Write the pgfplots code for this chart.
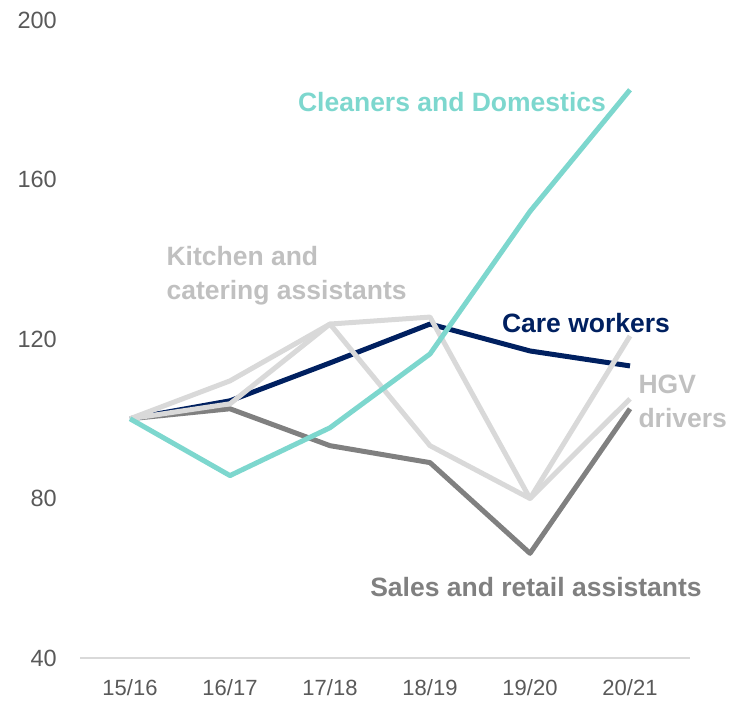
\documentclass[border=0pt]{standalone}
\usepackage{fontspec}
\setmainfont{Liberation Sans}
\usepackage{pgfplots}
\pgfplotsset{compat=1.18}

\definecolor{teal1}{HTML}{7DD7CE}
\definecolor{navy1}{HTML}{002060}
\definecolor{dgray}{HTML}{808080}
\definecolor{lgray}{HTML}{D9D9D9}
\definecolor{lblgray}{HTML}{C0C0C0}
\definecolor{tickgray}{HTML}{595959}

\begin{document}
\begin{tikzpicture}
  \begin{axis}[
    scale only axis,
    width=610pt, height=638pt,
    xmin=-0.5, xmax=5.6,
    ymin=40, ymax=200,
    axis x line*=bottom,
    axis y line*=left,
    x axis line style={draw=lgray, line width=1.5pt, -},
    y axis line style={draw=none},
    xtick={0,...,5},
    xticklabels={15/16,16/17,17/18,18/19,19/20,20/21},
    ytick={40,80,120,160,200},
    major tick length=0pt,
    /pgf/number format/assume math mode=true,
    ticklabel style={text=tickgray, inner sep=0pt},
    yticklabel style={font=\fontsize{23.5}{27}\selectfont, anchor=east, xshift=-23pt},
    xticklabel style={font=\fontsize{22}{26}\selectfont, anchor=north, yshift=-21pt},
    every axis plot/.append style={line width=5pt, line join=round, mark=none},
    clip=false,
  ]
  % Sales and retail assistants
  \addplot[dgray] coordinates {(0,100) (1,102.5) (2,93.25) (3,89) (4,66.25) (5,102.5)};
  % Care workers
  \addplot[navy1] coordinates {(0,100) (1,104.5) (2,114) (3,123.75) (4,117) (5,113.25)};
  % HGV drivers
  \addplot[lgray] coordinates {(0,100) (1,103.75) (2,123.75) (3,93.25) (4,80) (5,105)};
  % Kitchen and catering assistants
  \addplot[lgray] coordinates {(0,100) (1,109.5) (2,123.75) (3,125.5) (4,80) (5,120.75)};
  % Cleaners and Domestics
  \addplot[teal1] coordinates {(0,100) (1,85.75) (2,97.75) (3,116.25) (4,152) (5,182.5)};

  \begin{scope}[every node/.style={font=\fontsize{26.5}{34}\selectfont\bfseries}]
  \node[text=teal1] at (axis cs:3.22,179.5) {Cleaners and Domestics};
  \node[text=lblgray, anchor=west, align=left] at (axis cs:0.33,135.75) {Kitchen and\\catering assistants};
  \node[text=navy1] at (axis cs:4.56,124) {Care workers};
  \node[text=lblgray, anchor=west, align=left] at (axis cs:5.05,104.25) {HGV\\drivers};
  \node[text=dgray] at (axis cs:4.06,57.75) {Sales and retail assistants};
  \end{scope}
  \end{axis}
  \pgfresetboundingbox
  \path (current axis.south west) ++(-80pt,-44pt) rectangle ++(735pt,702pt);
\end{tikzpicture}
\end{document}
